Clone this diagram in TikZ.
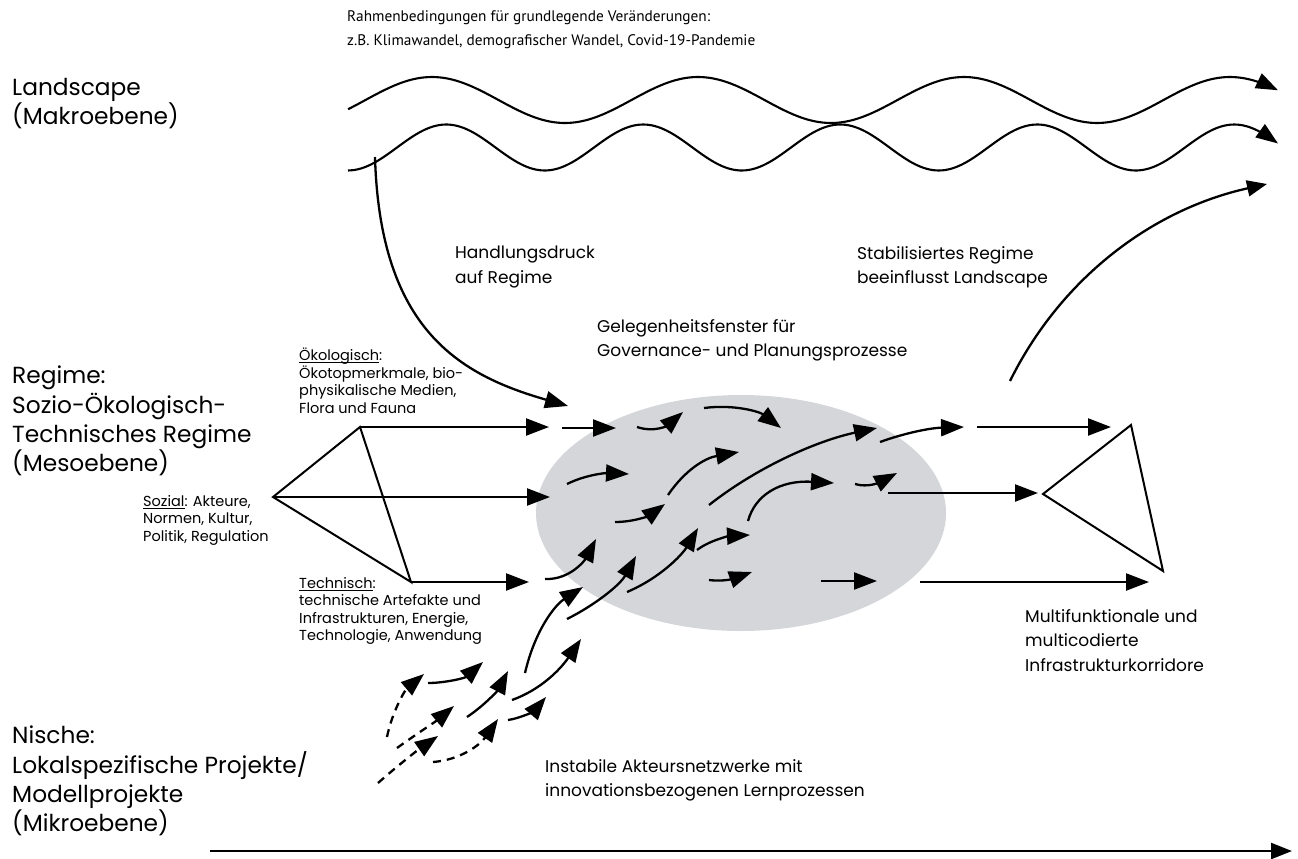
\documentclass[tikz,border=0pt]{standalone}
\usepackage{fontspec}
\setmainfont{Poppins}
\newfontfamily\captionfont{PT Sans}
\usetikzlibrary{arrows.meta}

% underline that sits just under the baseline
\newcommand\ulword[1]{\setbox0\hbox{#1}\rlap{\rule[-2.4pt]{\wd0}{0.8pt}}\box0}

\definecolor{windowgray}{RGB}{212,214,217}

\tikzset{
  arr/.style={line width=2.3pt, -{Triangle[length=23pt,width=17pt]}},
  dasharr/.style={arr, dash pattern=on 8pt off 6pt},
  thinline/.style={line width=2pt, line join=miter},
  bigtxt/.style={anchor=north west, inner sep=0pt, align=left,
    font=\fontsize{23.3}{29.2}\selectfont},
  midtxt/.style={anchor=north west, inner sep=0pt, align=left,
    font=\fontsize{17}{24.5}\selectfont},
  smalltxt/.style={anchor=north west, inner sep=0pt, align=left,
    font=\fontsize{14.5}{17.5}\selectfont},
  toptxt/.style={anchor=north west, inner sep=0pt, align=left,
    font=\captionfont\fontsize{15.3}{24}\selectfont},
}

\begin{document}
\begin{tikzpicture}[x=1pt, y=-1pt]
\useasboundingbox (0,0) rectangle (1298,859);

% window of opportunity
\fill[windowgray] (741,513) ellipse [x radius=205, y radius=118];

% ---------- texts ----------
\node[toptxt] (frame) at (347,10) {Rahmenbedingungen für grundlegende Veränderungen:\\
  z.B. Klimawandel, demografischer Wandel, Covid-19-Pandemie};
\node[bigtxt] (landscape) at (12,78) {Landscape\\(Makroebene)};
\node[bigtxt] (regime) at (12,366) {Regime:\\Sozio-Ökologisch-\\Technisches Regime\\(Mesoebene)};
\node[bigtxt] (nische) at (12,726) {Nische:\\Lokalspezifische Projekte/\\Modellprojekte\\(Mikroebene)};
\node[midtxt] (druck) at (455,246) {Handlungsdruck\\auf Regime};
\node[midtxt] (stabil) at (857,246) {Stabilisiertes Regime\\beeinflusst Landscape};
\node[midtxt] (fenster) at (597,319) {Gelegenheitsfenster für\\Governance- und Planungsprozesse};
\node[midtxt] (korridor) at (1025,609) {Multifunktionale und\\multicodierte\\Infrastrukturkorridore};
\node[midtxt] (netz) at (545,759) {Instabile Akteursnetzwerke mit\\innovationsbezogenen Lernprozessen};
\node[smalltxt] (oeko) at (299,348) {\ulword{Ökologisch}:\\Ökotopmerkmale, bio-\\physikalische Medien,\\Flora und Fauna};
\node[smalltxt] (sozial) at (143,495) {\ulword{Sozial}: Akteure,\\Normen, Kultur,\\Politik, Regulation};
\node[smalltxt] (technik) at (299,577) {\ulword{Technisch}:\\technische Artefakte und\\Infrastrukturen, Energie,\\Technologie, Anwendung};

% ---------- landscape waves ----------
\draw[line width=2.1pt, -{Triangle[length=22pt,width=16pt]}]
  plot[smooth, domain=348:1278, samples=140] (\x, {100-23*sin((\x-365.5)*1.35338)});
\draw[line width=2.1pt, -{Triangle[length=22pt,width=16pt]}]
  plot[smooth, domain=348:1278, samples=160] (\x, {147.5-23*sin((\x-397)*1.82741)});

% ---------- regime kite ----------
\coordinate (kA) at (273,497);
\coordinate (kB) at (360,427);
\coordinate (kC) at (411,582);
\draw[thinline] (kA) -- (kB) -- (kC) -- cycle;

\coordinate (kBe) at (549,427);
\coordinate (kAe) at (550,497);
\coordinate (kCe) at (529,582);
\draw[arr] (kB) -- (kBe);
\draw[arr] (kA) -- (kAe);
\draw[arr] (kC) -- (kCe);

% ---------- corridor triangle ----------
\coordinate (tT) at (1131,425);
\coordinate (tL) at (1043,494);
\coordinate (tR) at (1163,571);
\draw[thinline] (tT) -- (tL) -- (tR) -- cycle;

% ---------- pressure from landscape onto regime ----------
\coordinate (hdS) at (375,157);
\coordinate (hdE) at (568,406);
\draw[arr] (hdS) .. controls (380,330) and (460,375) .. (hdE);

% ---------- stabilised regime feeding back ----------
\coordinate (stS) at (1010,381);
\coordinate (stE) at (1267,184);
\draw[line width=2.3pt, -{Triangle[length=20pt,width=16pt]}]
  (stS) .. controls (1060,280) and (1150,210) .. (stE);

% ---------- straight flows ----------
\foreach \n/\xa/\ya/\xb/\yb in {1/562/428/616/428, 11/977/427/1111/427,
    12/888/493/1038/493, 17/821/581/877/581, 18/920/582/1149/582}{
  \coordinate (s\n) at (\xa,\ya);
  \coordinate (e\n) at (\xb,\yb);
  \draw[arr] (s\n) -- (e\n);
}

% ---------- curved flows inside the window and from the niches ----------
\foreach \n/\xa/\ya/\px/\py/\qx/\qy/\xb/\yb in {
    2/637/427/655/433/668/425/683/412,
    3/704/408/735/404/760/412/781/428,
    4/567/484/585/475/605/473/629/474,
    5/615/522/635/522/650/515/665/504,
    6/668/495/685/470/705/458/739/452,
    7/709/505/760/465/820/440/877/428,
    8/748/521/755/495/780/480/834/483,
    9/855/484/868/488/880/482/897/473,
    10/880/442/905/433/930/428/964/427,
    13/545/579/570/580/585/560/596/539,
    14/697/550/710/540/730/536/750/535,
    15/627/592/660/578/682/555/698/528,
    16/709/580/725/582/735/578/752/572,
    19/567/619/595/605/620/585/636/556,
    20/525/673/535/630/555/605/583/587,
    21/512/700/540/690/560/670/581/639,
    22/508/720/522/718/535/710/546/697,
    23/467/717/485/705/498/690/508/671,
    24/428/683/445/683/465/678/483/662}{
  \coordinate (s\n) at (\xa,\ya);
  \coordinate (e\n) at (\xb,\yb);
  \draw[arr] (s\n) .. controls (\px,\py) and (\qx,\qy) .. (e\n);
}

% ---------- tentative niche impulses ----------
\foreach \n/\xa/\ya/\px/\py/\qx/\qy/\xb/\yb in {
    31/387/737/392/712/405/690/424/674,
    32/397/748/415/735/435/722/454/706,
    33/378/783/395/768/415/752/438/736,
    34/433/762/460/760/480/745/498/719}{
  \coordinate (s\n) at (\xa,\ya);
  \coordinate (e\n) at (\xb,\yb);
  \draw[dasharr] (s\n) .. controls (\px,\py) and (\qx,\qy) .. (e\n);
}

% ---------- time axis ----------
\coordinate (tS) at (210,851);
\coordinate (tE) at (1292,851);
\draw[line width=2.4pt, -{Triangle[length=21pt,width=16pt]}] (tS) -- (tE);
\end{tikzpicture}
\end{document}
